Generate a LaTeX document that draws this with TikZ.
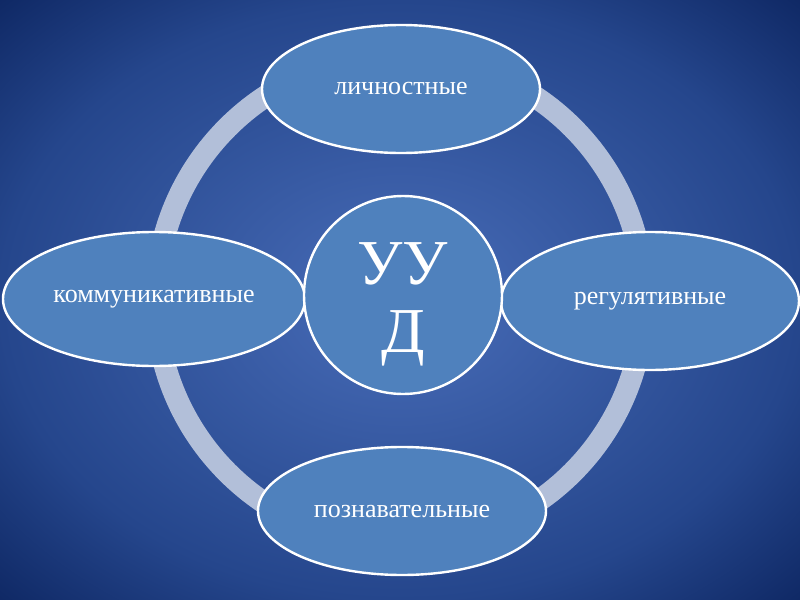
\documentclass[tikz,border=0pt]{standalone}
\usepackage{fontspec}
\setmainfont{Liberation Serif}
\usetikzlibrary{shapes.geometric}

\definecolor{bgcentre}{HTML}{4468B3}
\definecolor{bgmid}{HTML}{25468C}
\definecolor{bgedge}{HTML}{0E2763}
\definecolor{ringcol}{HTML}{B2BFD9}
\definecolor{fillcol}{HTML}{4F81BD}

\pgfdeclareradialshading{bgshade}{\pgfpoint{0bp}{0bp}}{%
  color(0bp)=(bgcentre); color(3bp)=(bgcentre); color(25bp)=(bgmid);
  color(36bp)=(bgedge); color(50bp)=(bgedge)}

\tikzset{
  part/.style={ellipse, draw=white, line width=1.2pt, fill=fillcol,
    text=white, inner sep=0pt, font=\fontsize{13}{15}\selectfont},
  core/.style={circle, draw=white, line width=1.2pt, fill=fillcol,
    text=white, inner sep=0pt, minimum size=99pt, align=center,
    font=\fontsize{32}{34}\selectfont}
}

\begin{document}
\begin{tikzpicture}[x=0.5pt,y=-0.5pt]

% background
\shade[shading=bgshade] (0,0) rectangle (800,600);
\useasboundingbox (0,0) rectangle (800,600);

% ring behind
\draw [ringcol, line width=11pt] (400,300) circle (244);

\node[part, minimum width=139pt, minimum height=64pt] (lich) at (401,89) {личностные};
\node[part, minimum width=151pt, minimum height=67pt] (komm) at (154,299) {коммуникативные};
\node[part, minimum width=149pt, minimum height=69pt] (reg) at (650,301) {регулятивные};
\node[part, minimum width=144pt, minimum height=64pt] (pozn) at (402,511) {познавательные};

\node[core] (uud) at (403,295) {};
\node[text=white, align=center, font=\fontsize{32}{34}\selectfont] (uudtext) at (403,304) {УУ\\Д};

\end{tikzpicture}
\end{document}
